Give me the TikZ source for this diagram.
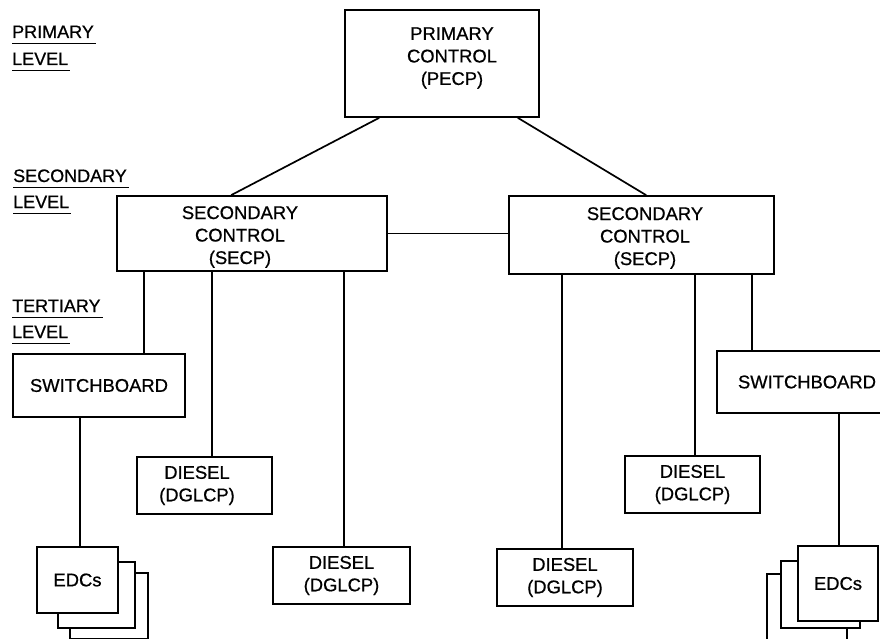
\documentclass[tikz,border=0pt]{standalone}
\usepackage{fontspec}
\setmainfont[FakeBold=0.7]{Liberation Sans}
\usetikzlibrary{calc}
\begin{document}
\begin{tikzpicture}[x=1pt,y=-1pt,
  wire/.style={line width=1.7pt},
  box/.style={draw, line width=1.7pt, fill=white, inner sep=0pt, align=center,
    font=\fontsize{18.4}{22.5}\selectfont},
  txt/.style={inner sep=0pt, align=center, font=\fontsize{18.4}{22.5}\selectfont},
  lvl/.style={inner sep=0pt, anchor=base west, font=\fontsize{18}{20}\selectfont},
  uline/.style={line width=1.7pt}]
\useasboundingbox (0,0) rectangle (880,639);
\clip (0,0) rectangle (880,639);

% level labels
\node[lvl] (l1) at (12,38) {PRIMARY};
\node[lvl] (l2) at (12,65) {LEVEL};
\node[lvl] (l3) at (13,182) {SECONDARY};
\node[lvl] (l4) at (13,208) {LEVEL};
\node[lvl] (l5) at (12,312) {TERTIARY};
\node[lvl] (l6) at (12,338) {LEVEL};
\foreach \n in {l1,l2,l3,l4,l5,l6}
  \draw[uline] ([yshift=-5.5pt]\n.base west) -- ([yshift=-5.5pt,xshift=2pt]\n.base east);

% main boxes
\node[box, minimum width=194pt, minimum height=107pt] (prim) at (442,63.5) {};
\node[txt] (primT) at (452,58) {PRIMARY\\CONTROL\\(PECP)};
\node[box, minimum width=270pt, minimum height=75pt] (secL) at (252,233.5) {};
\node[txt] (secLT) at (240,237) {SECONDARY\\CONTROL\\(SECP)};
\node[box, minimum width=265pt, minimum height=78pt] (secR) at (641.5,235) {};
\node[txt] (secRT) at (645,238) {SECONDARY\\CONTROL\\(SECP)};

\node[box, minimum width=172pt, minimum height=63pt] (swL) at (99,385.5) {SWITCHBOARD};
\node[box, minimum width=180pt, minimum height=62pt] (swR) at (807,382) {SWITCHBOARD};

\node[box, minimum width=135pt, minimum height=57pt] (dUL) at (204.5,485.5) {};
\node[txt] (dULT) at (197,485.5) {DIESEL\\(DGLCP)};
\node[box, minimum width=135pt, minimum height=57pt] (dUR) at (692.5,484.5) {DIESEL\\(DGLCP)};
\node[box, minimum width=137pt, minimum height=57pt] (dLL) at (341.5,575.5) {DIESEL\\(DGLCP)};
\node[box, minimum width=136pt, minimum height=57pt] (dLR) at (565,577.5) {DIESEL\\(DGLCP)};

% EDC stacks
\node[box, minimum width=78pt, minimum height=66pt] (eL3) at (109,606) {};
\node[box, minimum width=77pt, minimum height=66pt] (eL2) at (96.5,595) {};
\node[box, minimum width=81pt, minimum height=66pt] (eL1) at (77.5,580) {EDCs};
\node[box, minimum width=80pt, minimum height=67pt] (eR3) at (807,607.5) {};
\node[box, minimum width=79pt, minimum height=67pt] (eR2) at (820.5,594.5) {};
\node[box, minimum width=80pt, minimum height=75pt] (eR1) at (838,583.5) {EDCs};

% connectors
\draw[wire] ([xshift=35pt]prim.south west) -- ([xshift=115pt]secL.north west);
\draw[wire] ([xshift=-22pt]prim.south east) -- ([xshift=138pt]secR.north west);
\draw[wire] (secL.east) -- (secL.east -| secR.west);

\draw[wire] ([xshift=28pt]secL.south west) -- ([xshift=28pt]secL.south west |- swL.north);
\draw[wire] ([xshift=96pt]secL.south west) -- ([xshift=96pt]secL.south west |- dUL.north);
\draw[wire] ([xshift=228pt]secL.south west) -- ([xshift=228pt]secL.south west |- dLL.north);

\draw[wire] ([xshift=54pt]secR.south west) -- ([xshift=54pt]secR.south west |- dLR.north);
\draw[wire] ([xshift=187pt]secR.south west) -- ([xshift=187pt]secR.south west |- dUR.north);
\draw[wire] ([xshift=244pt]secR.south west) -- ([xshift=244pt]secR.south west |- swR.north);

\draw[wire] ([xshift=68pt]swL.south west) -- ([xshift=68pt]swL.south west |- eL1.north);
\draw[wire] ([xshift=123pt]swR.south west) -- ([xshift=123pt]swR.south west |- eR1.north);
\end{tikzpicture}
\end{document}
